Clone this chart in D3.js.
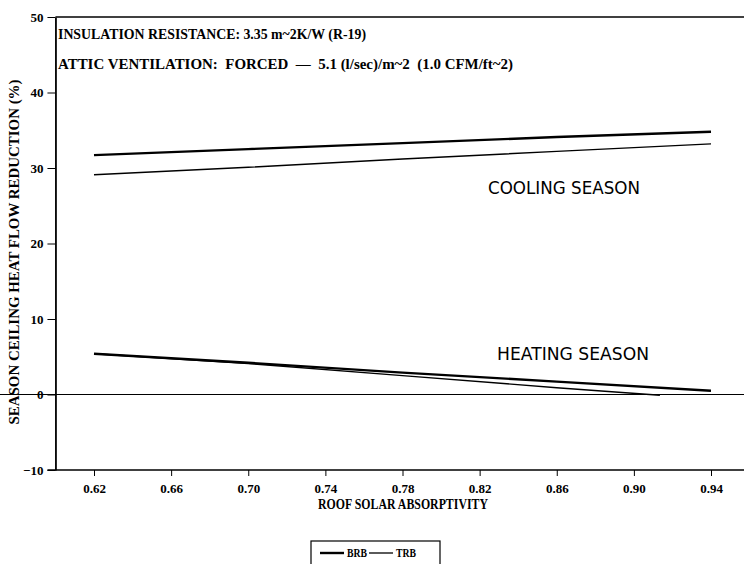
<!DOCTYPE html>
<html>
<head>
<meta charset="utf-8">
<script src="https://cdn.jsdelivr.net/npm/d3@7"></script>
<style>
  body { margin: 0; background: #fff; }
  svg { display: block; }
  .serif { font-family: "Liberation Serif", "DejaVu Serif", serif; font-weight: bold; }
  .sans { font-family: "DejaVu Sans", "Liberation Sans", sans-serif; }
</style>
</head>
<body>
<script>
const w = 744;
const h = 564;

// absorptivity values at which the curves were read
const absorptivity = [0.62, 0.70, 0.78, 0.86, 0.94];
const coolingBRB = [31.7, 32.5, 33.3, 34.1, 34.8];
const coolingTRB = [29.1, 30.1, 31.2, 32.2, 33.2];
const heatingBRB = [5.4, 4.2, 2.9, 1.7, 0.5];
const heatingTRBx = [0.62, 0.70, 0.78, 0.86, 0.9135];
const heatingTRB = [5.4, 4.1, 2.5, 0.9, -0.1];

const xTicks = [0.62, 0.66, 0.70, 0.74, 0.78, 0.82, 0.86, 0.90, 0.94];
const yTicks = [-10, 0, 10, 20, 30, 40, 50];

const svg = d3.select("body").append("svg").attr("width", w).attr("height", h);

const xScale = d3.scaleLinear().domain([0.62, 0.94]).range([94, 711]);
const yScale = d3.scaleLinear().domain([-10, 50]).range([470, 17]);

const left = xScale(0.6);

// frame lines
svg.append("line")
  .attr("x1", left).attr("x2", w)
  .attr("y1", yScale(50)).attr("y2", yScale(50))
  .attr("stroke", "#000").attr("stroke-width", 1.5);

svg.append("line")
  .attr("x1", 0).attr("x2", w)
  .attr("y1", yScale(0)).attr("y2", yScale(0))
  .attr("stroke", "#000").attr("stroke-width", 1);

// y axis
const yAxis = d3.axisLeft(yScale).tickValues(yTicks).tickSize(8).tickSizeOuter(0);
const gy = svg.append("g")
  .attr("transform", "translate(" + left + ",0)")
  .call(yAxis);
gy.select(".domain").attr("stroke-width", 1.8);
gy.selectAll("text").attr("class", "serif").style("font-size", "13px").attr("dx", "-1");

// x axis
const xAxis = d3.axisBottom(xScale).tickValues(xTicks).tickFormat(d3.format(".2f")).tickSize(6).tickSizeOuter(0);
const gx = svg.append("g")
  .attr("transform", "translate(0," + yScale(-10) + ")")
  .call(xAxis);
gx.select(".domain").attr("d", "M" + (left - 8) + ",0H" + w).attr("stroke-width", 1.5);
gx.selectAll("text").attr("class", "serif").style("font-size", "13px").attr("dy", "1.05em");

// axis titles
svg.append("text")
  .attr("class", "serif")
  .attr("x", 403).attr("y", 509)
  .attr("text-anchor", "middle")
  .attr("textLength", 170).attr("lengthAdjust", "spacingAndGlyphs")
  .style("font-size", "15px")
  .text("ROOF SOLAR ABSORPTIVITY");

svg.append("text")
  .attr("class", "serif")
  .attr("transform", "translate(19,252) rotate(-90)")
  .attr("text-anchor", "middle")
  .attr("textLength", 345).attr("lengthAdjust", "spacingAndGlyphs")
  .style("font-size", "14px")
  .text("SEASON CEILING HEAT FLOW REDUCTION (%)");

// annotations
svg.append("text")
  .attr("class", "serif")
  .attr("x", 58).attr("y", 39)
  .attr("textLength", 308).attr("lengthAdjust", "spacingAndGlyphs")
  .style("font-size", "15px")
  .text("INSULATION RESISTANCE: 3.35 m~2K/W (R-19)");

svg.append("text")
  .attr("class", "serif")
  .attr("x", 58).attr("y", 69)
  .attr("textLength", 455).attr("lengthAdjust", "spacingAndGlyphs")
  .style("font-size", "15px")
  .style("white-space", "pre")
  .text("ATTIC VENTILATION:  FORCED  \u2014  5.1 (l/sec)/m~2  (1.0 CFM/ft~2)");

svg.append("text")
  .attr("class", "sans")
  .attr("x", 488).attr("y", 194)
  .attr("textLength", 152).attr("lengthAdjust", "spacingAndGlyphs")
  .style("font-size", "18px")
  .text("COOLING SEASON");

svg.append("text")
  .attr("class", "sans")
  .attr("x", 497).attr("y", 360)
  .attr("textLength", 152).attr("lengthAdjust", "spacingAndGlyphs")
  .style("font-size", "18px")
  .text("HEATING SEASON");

// curves
const line = d3.line().x(d => xScale(d[0])).y(d => yScale(d[1]));

const series = [
  { x: absorptivity, y: coolingBRB, width: 2.4 },
  { x: absorptivity, y: coolingTRB, width: 1.4 },
  { x: absorptivity, y: heatingBRB, width: 2.4 },
  { x: heatingTRBx, y: heatingTRB, width: 1.4 }
];

svg.selectAll("path.curve")
  .data(series)
  .enter()
  .append("path")
  .attr("class", "curve")
  .attr("d", s => line(s.x.map((x, i) => [x, s.y[i]])))
  .attr("fill", "none")
  .attr("stroke", "#000")
  .attr("stroke-width", s => s.width);

// legend
const legend = svg.append("g").attr("transform", "translate(311,541)");
legend.append("rect")
  .attr("x", 0).attr("y", 0)
  .attr("width", 129).attr("height", 30)
  .attr("fill", "none").attr("stroke", "#000").attr("stroke-width", 1.2);

const legendItems = [
  { name: "BRB", width: 2.4, x: 9 },
  { name: "TRB", width: 1.3, x: 58 }
];

legendItems.forEach(d => {
  legend.append("line")
    .attr("x1", d.x).attr("x2", d.x + 24)
    .attr("y1", 12).attr("y2", 12)
    .attr("stroke", "#000").attr("stroke-width", d.width);
  legend.append("text")
    .attr("class", "serif")
    .attr("x", d.x + 27).attr("y", 16)
    .attr("textLength", 20).attr("lengthAdjust", "spacingAndGlyphs")
    .style("font-size", "12px")
    .text(d.name);
});
</script>
</body>
</html>
